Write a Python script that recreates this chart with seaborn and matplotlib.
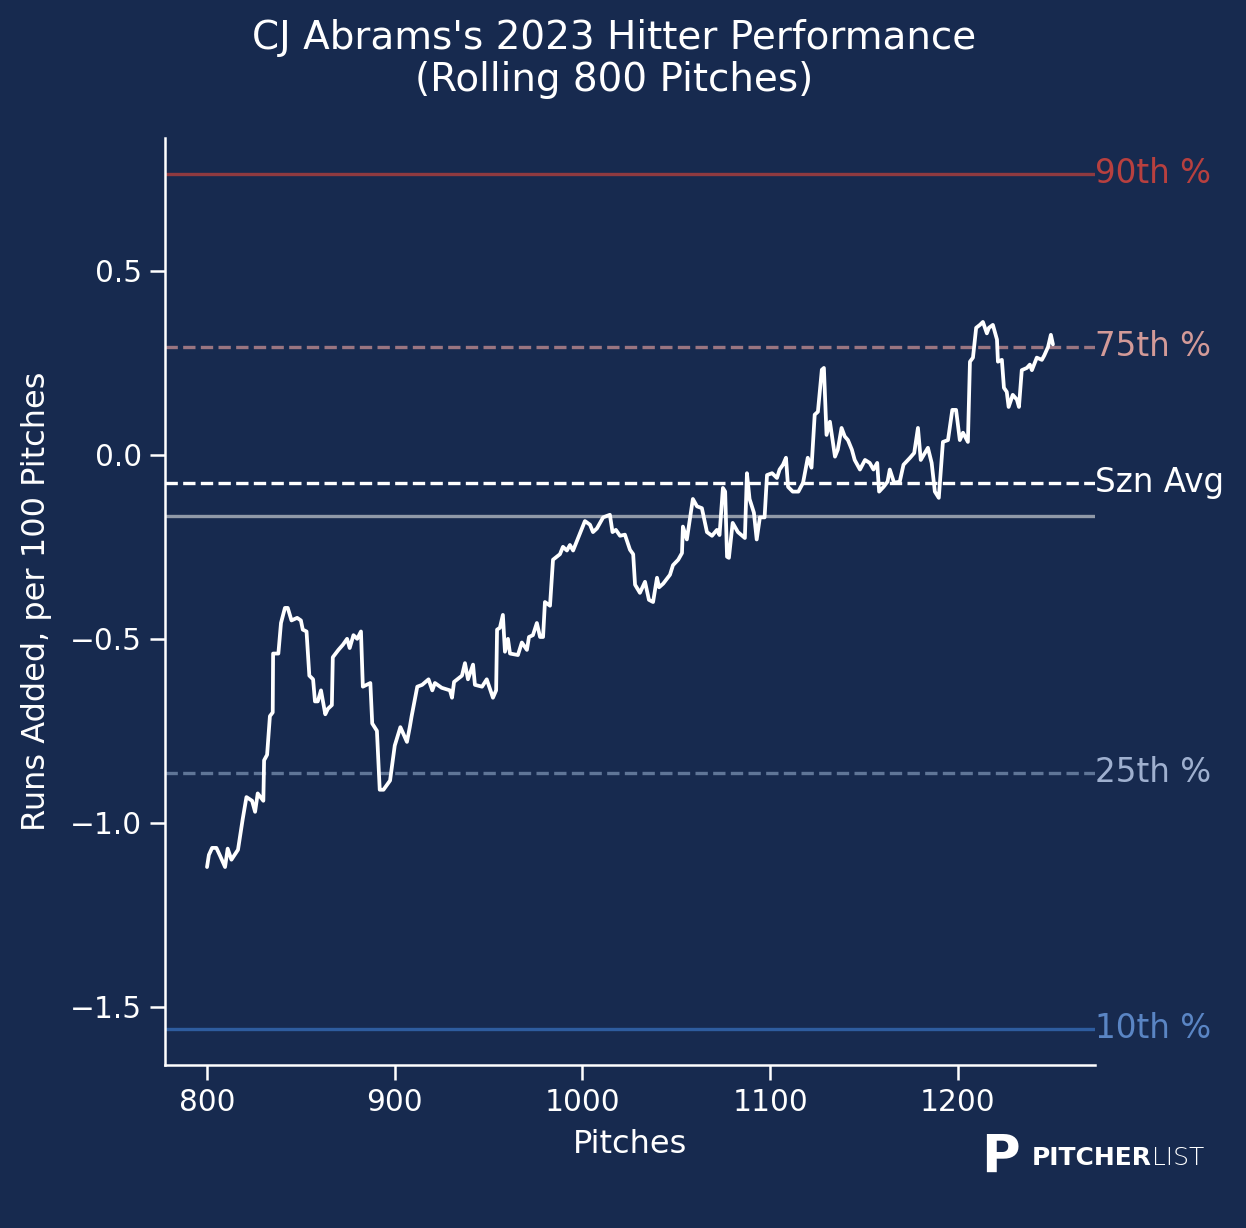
import pandas as pd
import matplotlib.pyplot as plt
import seaborn as sns

# rolling run value
pitches = [800, 801, 802.7, 805, 807, 809.6, 811, 813, 816.5, 819, 821, 824, 825.6, 827, 830,
           830.4, 832, 833.5, 835, 835.2, 838, 839.4, 841.5, 843, 845, 848, 850, 851, 853, 854.5,
           856.5, 857.5, 859, 860.7, 863, 864.4, 866.5, 867, 870, 872.4, 874.6, 876, 878, 880,
           882, 883, 887, 888, 890.5, 892, 894, 897.5, 900, 903, 906.5, 908, 909, 912, 914.6,
           918, 920, 921.4, 925, 929.4, 930.5, 931.6, 935.8, 937.4, 939, 941.7, 942.7, 946.5,
           949, 952.3, 954, 954.5, 956, 957.6, 958.7, 960.3, 961.4, 965.6, 967.7, 970.4, 971.5,
           973.6, 975.7, 977.4, 979, 980, 982.7, 984.3, 988, 989.6, 991.7, 993.3, 995, 997.6,
           999.7, 1001.3, 1004, 1005.6, 1007.7, 1011, 1014.6, 1016, 1017.8, 1020, 1022.6, 1025.3,
           1027, 1028, 1030.6, 1033.3, 1035.4, 1037.6, 1039.7, 1040.8, 1043, 1046.6, 1048.2,
           1051, 1053, 1053.5, 1055.6, 1058.8, 1061, 1063.6, 1066.3, 1069, 1071.6, 1073, 1074.8,
           1076, 1077, 1078, 1080, 1082.8, 1086.5, 1087.6, 1089, 1091.3, 1092.8, 1094.5, 1097,
           1098.3, 1101, 1103.6, 1105, 1106.8, 1108.4, 1109.5, 1112, 1115, 1117.5, 1120, 1122,
           1123.7, 1125.4, 1127.5, 1128.6, 1130, 1131.8, 1134.5, 1136, 1138, 1139.7, 1141.4,
           1143.5, 1145, 1147.8, 1150.5, 1153, 1155, 1157, 1158, 1160.4, 1162.5, 1163.7, 1166,
           1169, 1171, 1174.5, 1176.7, 1178.7, 1180.2, 1182.4, 1184, 1186, 1187.7, 1189.8, 1192,
           1194.7, 1197, 1199, 1201, 1202.7, 1205.3, 1206.4, 1208, 1209.7, 1211.7, 1213.3, 1215.4,
           1216.5, 1218.6, 1220.8, 1221.3, 1223.4, 1224.5, 1226, 1227, 1229.2, 1231.4, 1232.5,
           1234, 1236.7, 1238.3, 1239.4, 1242, 1244.7, 1246, 1248, 1249.5, 1250.6]
runs = [-1.12, -1.087, -1.068, -1.068, -1.09, -1.12, -1.07, -1.10, -1.073, -0.99, -0.93, -0.94,
        -0.97, -0.92, -0.94, -0.83, -0.815, -0.71, -0.70, -0.54, -0.54, -0.457, -0.416, -0.416,
        -0.45, -0.443, -0.45, -0.475, -0.48, -0.60, -0.61, -0.67, -0.67, -0.64, -0.705, -0.69,
        -0.68, -0.55, -0.53, -0.516, -0.50, -0.525, -0.49, -0.50, -0.48, -0.63, -0.62, -0.73,
        -0.75, -0.91, -0.91, -0.885, -0.79, -0.74, -0.78, -0.74, -0.71, -0.63, -0.625, -0.61,
        -0.64, -0.62, -0.633, -0.64, -0.66, -0.617, -0.60, -0.566, -0.61, -0.57, -0.625, -0.63,
        -0.61, -0.66, -0.64, -0.475, -0.47, -0.435, -0.535, -0.50, -0.54, -0.544, -0.51, -0.53,
        -0.495, -0.49, -0.457, -0.495, -0.495, -0.40, -0.41, -0.285, -0.27, -0.25, -0.26, -0.245,
        -0.26, -0.227, -0.20, -0.18, -0.19, -0.21, -0.20, -0.17, -0.163, -0.21, -0.204, -0.22,
        -0.217, -0.258, -0.27, -0.353, -0.375, -0.345, -0.394, -0.40, -0.334, -0.36, -0.35,
        -0.326, -0.30, -0.285, -0.267, -0.195, -0.23, -0.12, -0.14, -0.145, -0.21, -0.22, -0.204,
        -0.218, -0.09, -0.10, -0.277, -0.28, -0.185, -0.21, -0.226, -0.05, -0.12, -0.157, -0.23,
        -0.17, -0.17, -0.055, -0.05, -0.063, -0.04, -0.027, -0.008, -0.087, -0.10, -0.10, -0.076,
        -0.008, -0.035, 0.109, 0.117, 0.231, 0.236, 0.054, 0.09, -0.005, 0.014, 0.073, 0.05,
        0.04, 0.014, -0.014, -0.04, -0.014, -0.022, -0.04, -0.022, -0.10, -0.087, -0.073, -0.04,
        -0.076, -0.073, -0.027, -0.008, 0.005, 0.073, -0.014, 0.005, 0.019, -0.022, -0.10,
        -0.117, 0.035, 0.04, 0.122, 0.122, 0.04, 0.06, 0.035, 0.253, 0.264, 0.345, 0.353, 0.361,
        0.33, 0.345, 0.353, 0.313, 0.253, 0.258, 0.182, 0.171, 0.13, 0.163, 0.15, 0.13, 0.23,
        0.236, 0.245, 0.23, 0.264, 0.258, 0.27, 0.293, 0.326, 0.30]

# percentile / average reference lines
ref_names = ['90th %', '75th %', 'Szn Avg', '', '25th %', '10th %']
ref_values = [0.764, 0.293, -0.076, -0.166, -0.864, -1.56]

df = pd.DataFrame({'Pitches': pitches, 'Runs': runs})

bg = '#172a4f'
sns.set_theme(style='ticks', context='talk')
plt.rcParams['font.family'] = ['DejaVu Sans']

fig = plt.figure(figsize=(12.46, 12.28), dpi=100, facecolor=bg)
ax = fig.add_axes([0.1324, 0.1327, 0.7464, 0.755])
ax.set_facecolor(bg)

line_styles = [('#8f3a40', '-'), ('#9a7581', '--'), ('white', '--'),
               ('#9099a8', '-'), ('#5f7597', '--'), ('#2e5c9e', '-')]
text_colors = ['#b8403f', '#d39a98', 'white', None, '#9fb0cf', '#5a85c4']
for val, name, (lc, ls), tc in zip(ref_values, ref_names, line_styles, text_colors):
    ax.axhline(val, color=lc, linestyle=ls, linewidth=2.4, zorder=1)
    if name:
        ax.text(1.0, val, name, transform=ax.get_yaxis_transform(), color=tc,
                fontsize=23.5, va='center', ha='left')

sns.lineplot(data=df, x='Pitches', y='Runs', color='white', linewidth=2.7, ax=ax, zorder=3)

ax.set_xlim(777.6, 1273)
ax.set_ylim(-1.658, 0.861)
ax.set_xticks([800, 900, 1000, 1100, 1200])
ax.set_yticks([-1.5, -1.0, -0.5, 0.0, 0.5])
ax.set_xlabel('Pitches', color='white', fontsize=23)
ax.set_ylabel('Runs Added, per 100 Pitches', color='white', fontsize=23)
ax.yaxis.set_label_coords(-0.121, 0.5)
ax.xaxis.set_label_coords(0.5, -0.069)
ax.tick_params(colors='white', labelsize=21.3, width=1.8, length=10.5, pad=6)
for s in ['left', 'bottom']:
    ax.spines[s].set_color('white')
    ax.spines[s].set_linewidth(1.8)
sns.despine(ax=ax)

fig.text(0.493, 0.952, "CJ Abrams's 2023 Hitter Performance\n(Rolling 800 Pitches)",
         ha='center', va='center', color='white', fontsize=28, linespacing=1.15)

# logo
fig.text(0.803, 0.057, 'P', color='white', fontsize=38, fontweight='bold', ha='center', va='center')
t1 = fig.text(0.828, 0.057, 'PITCHER', color='white', fontsize=18, fontweight='bold',
              ha='left', va='center')
fig.canvas.draw()
bb = t1.get_window_extent().transformed(fig.transFigure.inverted())
fig.text(bb.x1, 0.057, 'LIST', color='white', fontsize=18, fontweight='light',
         ha='left', va='center')

fig.savefig('out.png', dpi=100, facecolor=bg)
